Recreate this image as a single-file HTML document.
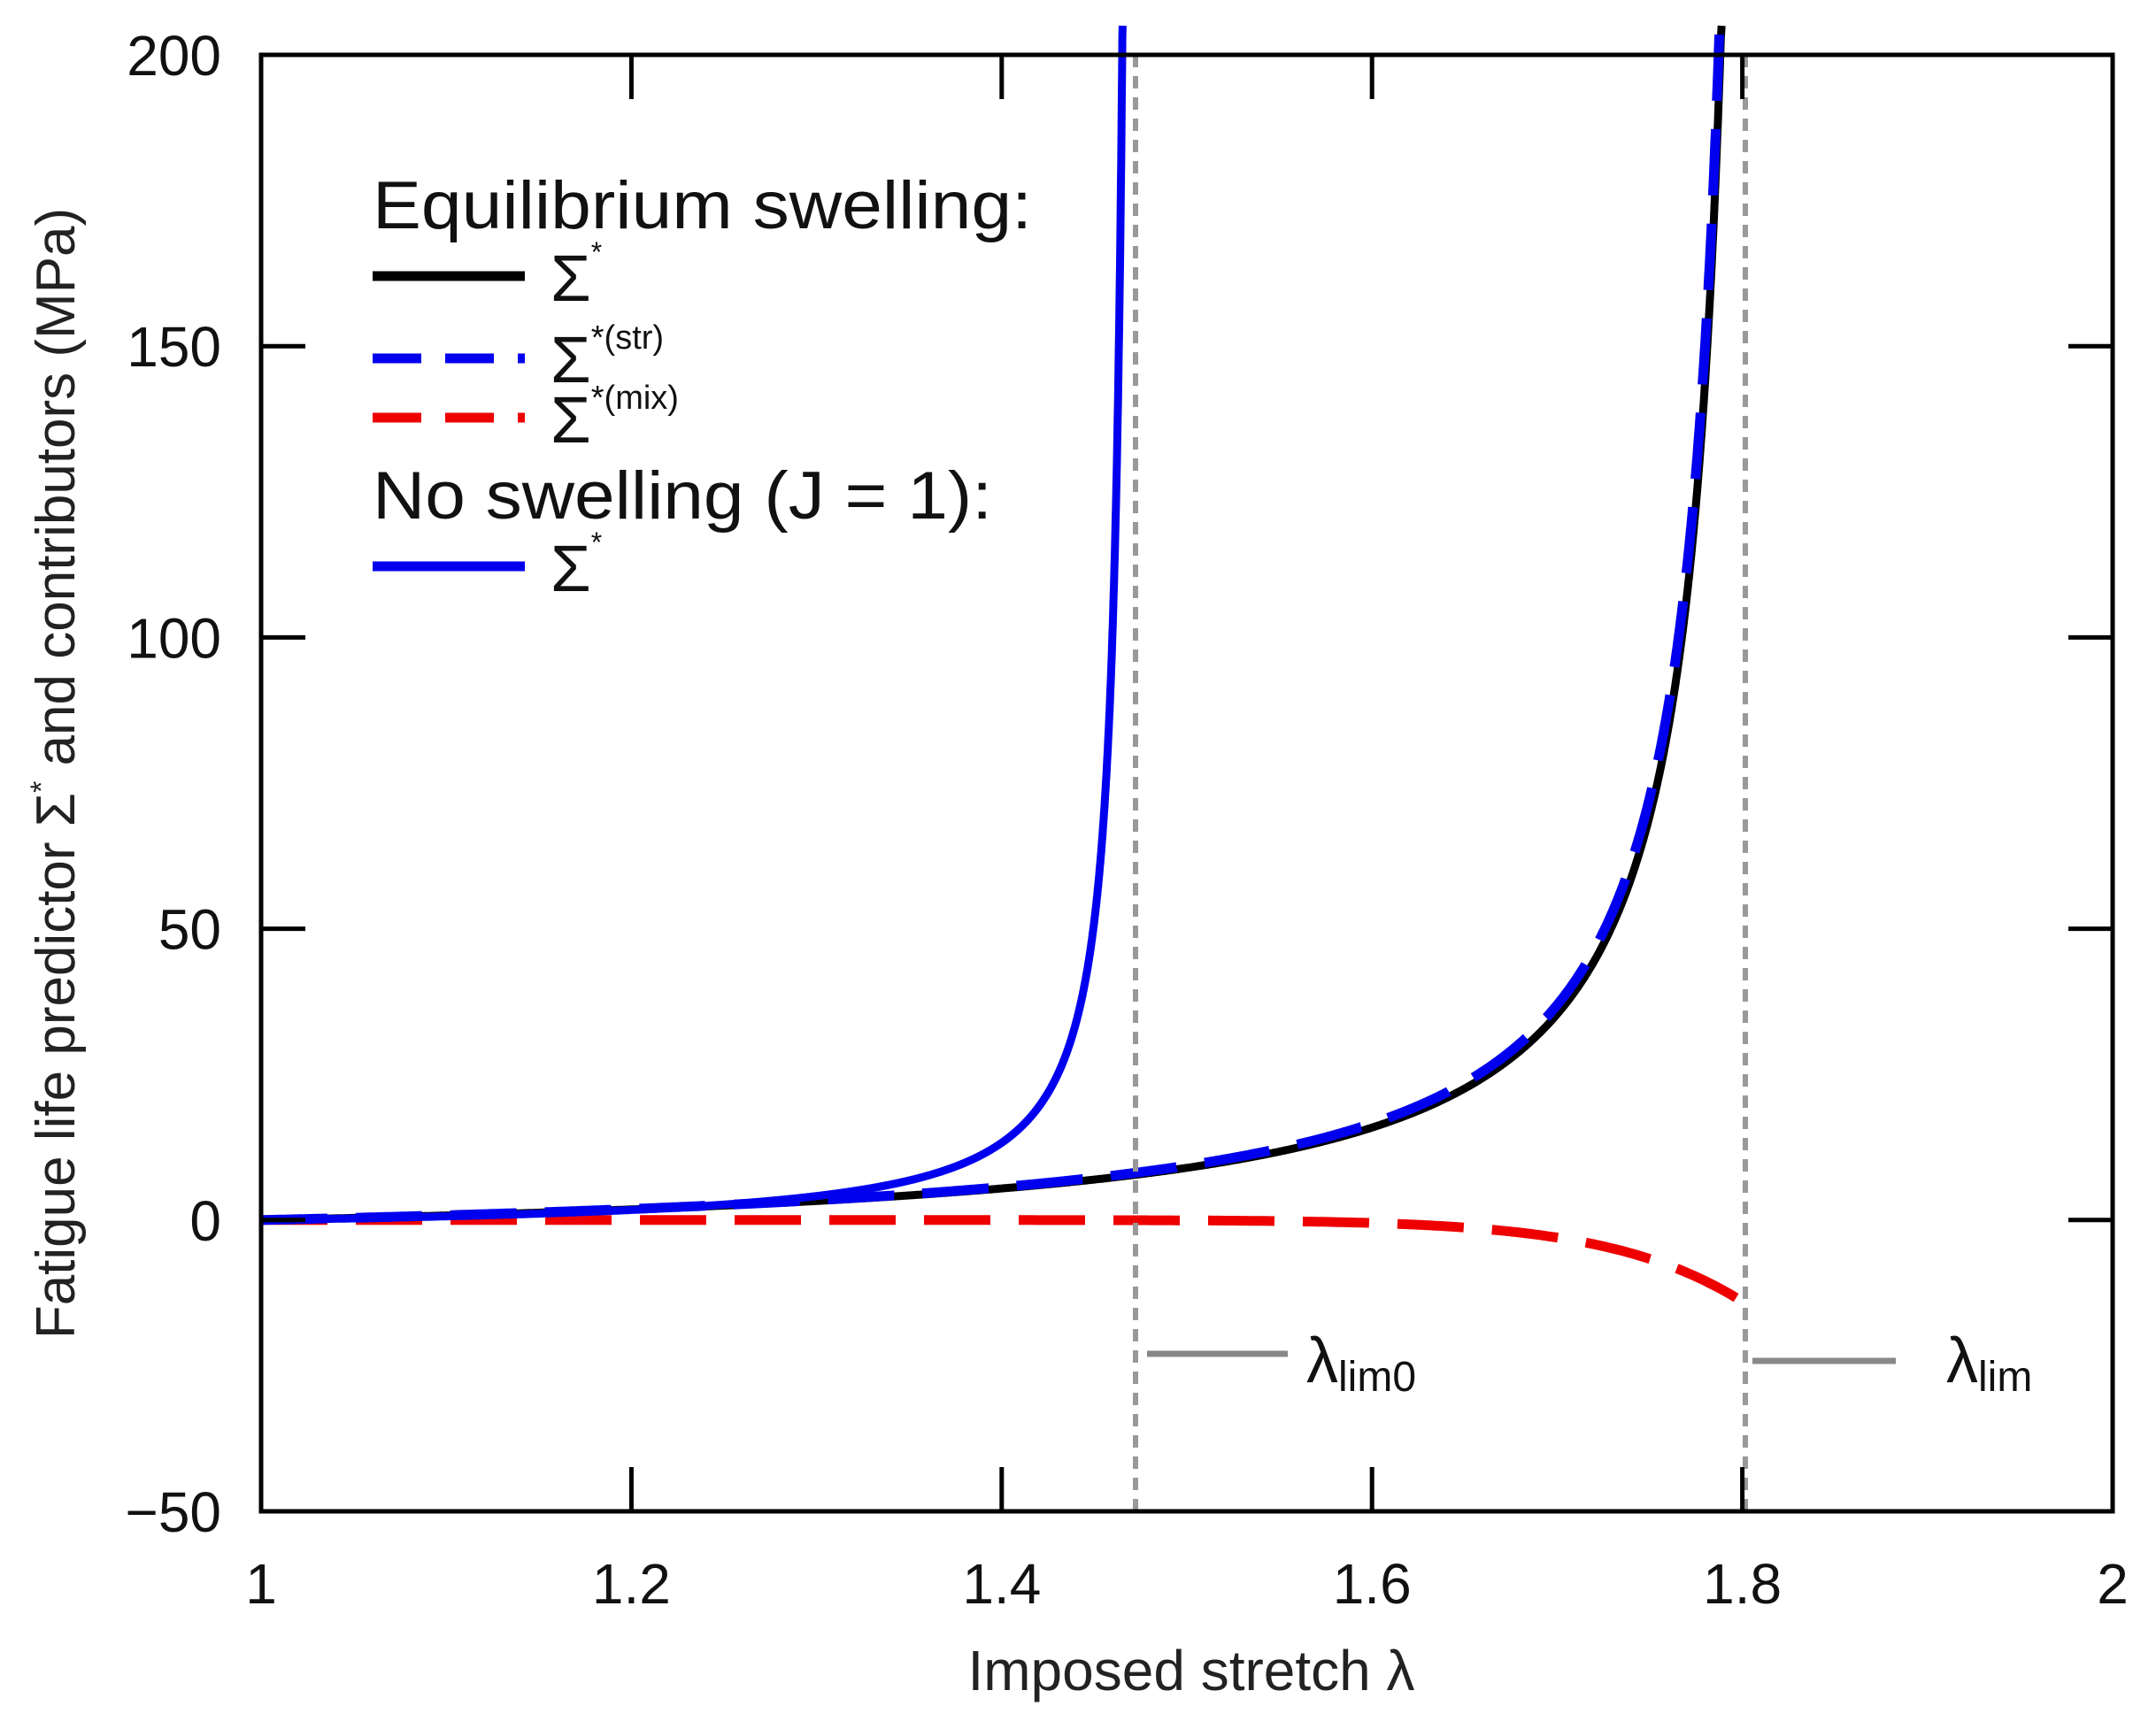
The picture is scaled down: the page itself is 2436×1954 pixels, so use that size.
<!DOCTYPE html>
<html><head><meta charset="utf-8"><style>
html,body{margin:0;padding:0;background:#fff;}
svg{display:block;font-family:"Liberation Sans",sans-serif;}
</style></head><body>
<svg id="s" width="2436" height="1954" viewBox="0 0 2436 1954" xmlns="http://www.w3.org/2000/svg">
<rect width="2436" height="1954" fill="#fff"/>
<g id="curves"></g>
<!-- vertical dashed lines -->
<line x1="1283" y1="62" x2="1283" y2="1708" stroke="#999" stroke-width="6" stroke-dasharray="14,10"/>
<line x1="1972" y1="62" x2="1972" y2="1708" stroke="#999" stroke-width="6" stroke-dasharray="14,10"/>
<!-- frame -->
<rect x="295" y="62" width="2092" height="1646" fill="none" stroke="#000" stroke-width="5"/>
<g stroke="#000" stroke-width="5" id="ticks"></g>
<g font-size="64" fill="#111" text-anchor="end" id="ylab"></g>
<g font-size="64" fill="#111" text-anchor="middle" id="xlab"></g>
<text x="1346" y="1910" font-size="64" text-anchor="middle" fill="#222">Imposed stretch λ</text>
<text transform="translate(84,874) rotate(-90)" font-size="62" text-anchor="middle" fill="#222">Fatigue life predictor Σ<tspan font-size="34" dy="-26">*</tspan><tspan dy="26"> and contributors (MPa)</tspan></text>
<!-- legend -->
<text x="421" y="258" font-size="76" fill="#111" textLength="745" lengthAdjust="spacingAndGlyphs">Equilibrium swelling:</text>
<line x1="421" y1="312" x2="593" y2="312" stroke="#000" stroke-width="11"/>
<text x="622" y="340" font-size="74" fill="#111">Σ<tspan font-size="32" dy="-44">*</tspan></text>
<line x1="421" y1="405" x2="593" y2="405" stroke="#0000ee" stroke-width="11" stroke-dasharray="55,27"/>
<text x="622" y="432" font-size="74" fill="#111">Σ<tspan font-size="38" dy="-38">*(str)</tspan></text>
<line x1="421" y1="472" x2="593" y2="472" stroke="#ee0000" stroke-width="11" stroke-dasharray="55,27"/>
<text x="622" y="500" font-size="74" fill="#111">Σ<tspan font-size="38" dy="-38">*(mix)</tspan></text>
<text x="421" y="586" font-size="76" fill="#111" textLength="700" lengthAdjust="spacingAndGlyphs">No swelling (J = 1):</text>
<line x1="421" y1="640" x2="593" y2="640" stroke="#0000ee" stroke-width="11"/>
<text x="622" y="668" font-size="74" fill="#111">Σ<tspan font-size="32" dy="-44">*</tspan></text>
<!-- annotations -->
<line x1="1296" y1="1530" x2="1455" y2="1530" stroke="#888" stroke-width="7"/>
<text x="1476" y="1562" font-size="72" fill="#111">λ<tspan font-size="48" dy="10">lim0</tspan></text>
<line x1="1980" y1="1538" x2="2142" y2="1538" stroke="#888" stroke-width="7"/>
<text x="2199" y="1562" font-size="72" fill="#111">λ<tspan font-size="48" dy="10">lim</tspan></text>
<script>
var X0=295,X1=2387,Y0=1708,Y1=62;
function px(l){return X0+(l-1)*(X1-X0);}
function py(v){return Y0-(v+50)/250*(Y0-Y1);}
function path(f,a,b,n){var d="";for(var i=0;i<=n;i++){var l=a+(b-a)*i/n;var v=f(l);if(v>205){v=205;}d+=(i?"L":"M")+px(l).toFixed(1)+","+py(v).toFixed(1);if(v>=205)break;}return d;}
var L=1.81;
function blk(l){return 4.5*(1/(L-l)-1/(L-1));}
function str(l){return 4.7*(1/(L-l)-1/(L-1));}
function mix(l){return -14*Math.pow((l-1)/0.8,11.5);}
var L0=1.4705;
function nos(l){return 1.1*(1/(L0-l)-1/(L0-1));}
var g=document.getElementById("curves"),ns="http://www.w3.org/2000/svg";
function add(d,c,w,da){var p=document.createElementNS(ns,"path");p.setAttribute("d",d);p.setAttribute("fill","none");p.setAttribute("stroke",c);p.setAttribute("stroke-width",w);if(da)p.setAttribute("stroke-dasharray",da);g.appendChild(p);}
add(path(mix,1,1.8,400),"#ee0000",11,"75,32");
add(path(blk,1,1.8,2000),"#000",9);
add(path(str,1,1.8,2000),"#0000ee",11,"75,32");
add(path(nos,1,1.47,3000),"#0000ee",9);
var t=document.getElementById("ticks"),yl=document.getElementById("ylab"),xl=document.getElementById("xlab");
function ln(x1,y1,x2,y2){var e=document.createElementNS(ns,"line");e.setAttribute("x1",x1);e.setAttribute("y1",y1);e.setAttribute("x2",x2);e.setAttribute("y2",y2);t.appendChild(e);}
function tx(p,x,y,s){var e=document.createElementNS(ns,"text");e.setAttribute("x",x);e.setAttribute("y",y);e.textContent=s;p.appendChild(e);}
[-50,0,50,100,150,200].forEach(function(v){var y=py(v);if(v>-50&&v<200){ln(X0,y,X0+50,y);ln(X1,y,X1-50,y);}tx(yl,250,y+23,v<0?"−50":String(v));});
[1,1.2,1.4,1.6,1.8,2].forEach(function(l){var x=px(l);if(l>1&&l<2){ln(x,Y0,x,Y0-50);ln(x,Y1,x,Y1+50);}tx(xl,x,1812,String(l));});
</script>
</svg>
</body></html>
